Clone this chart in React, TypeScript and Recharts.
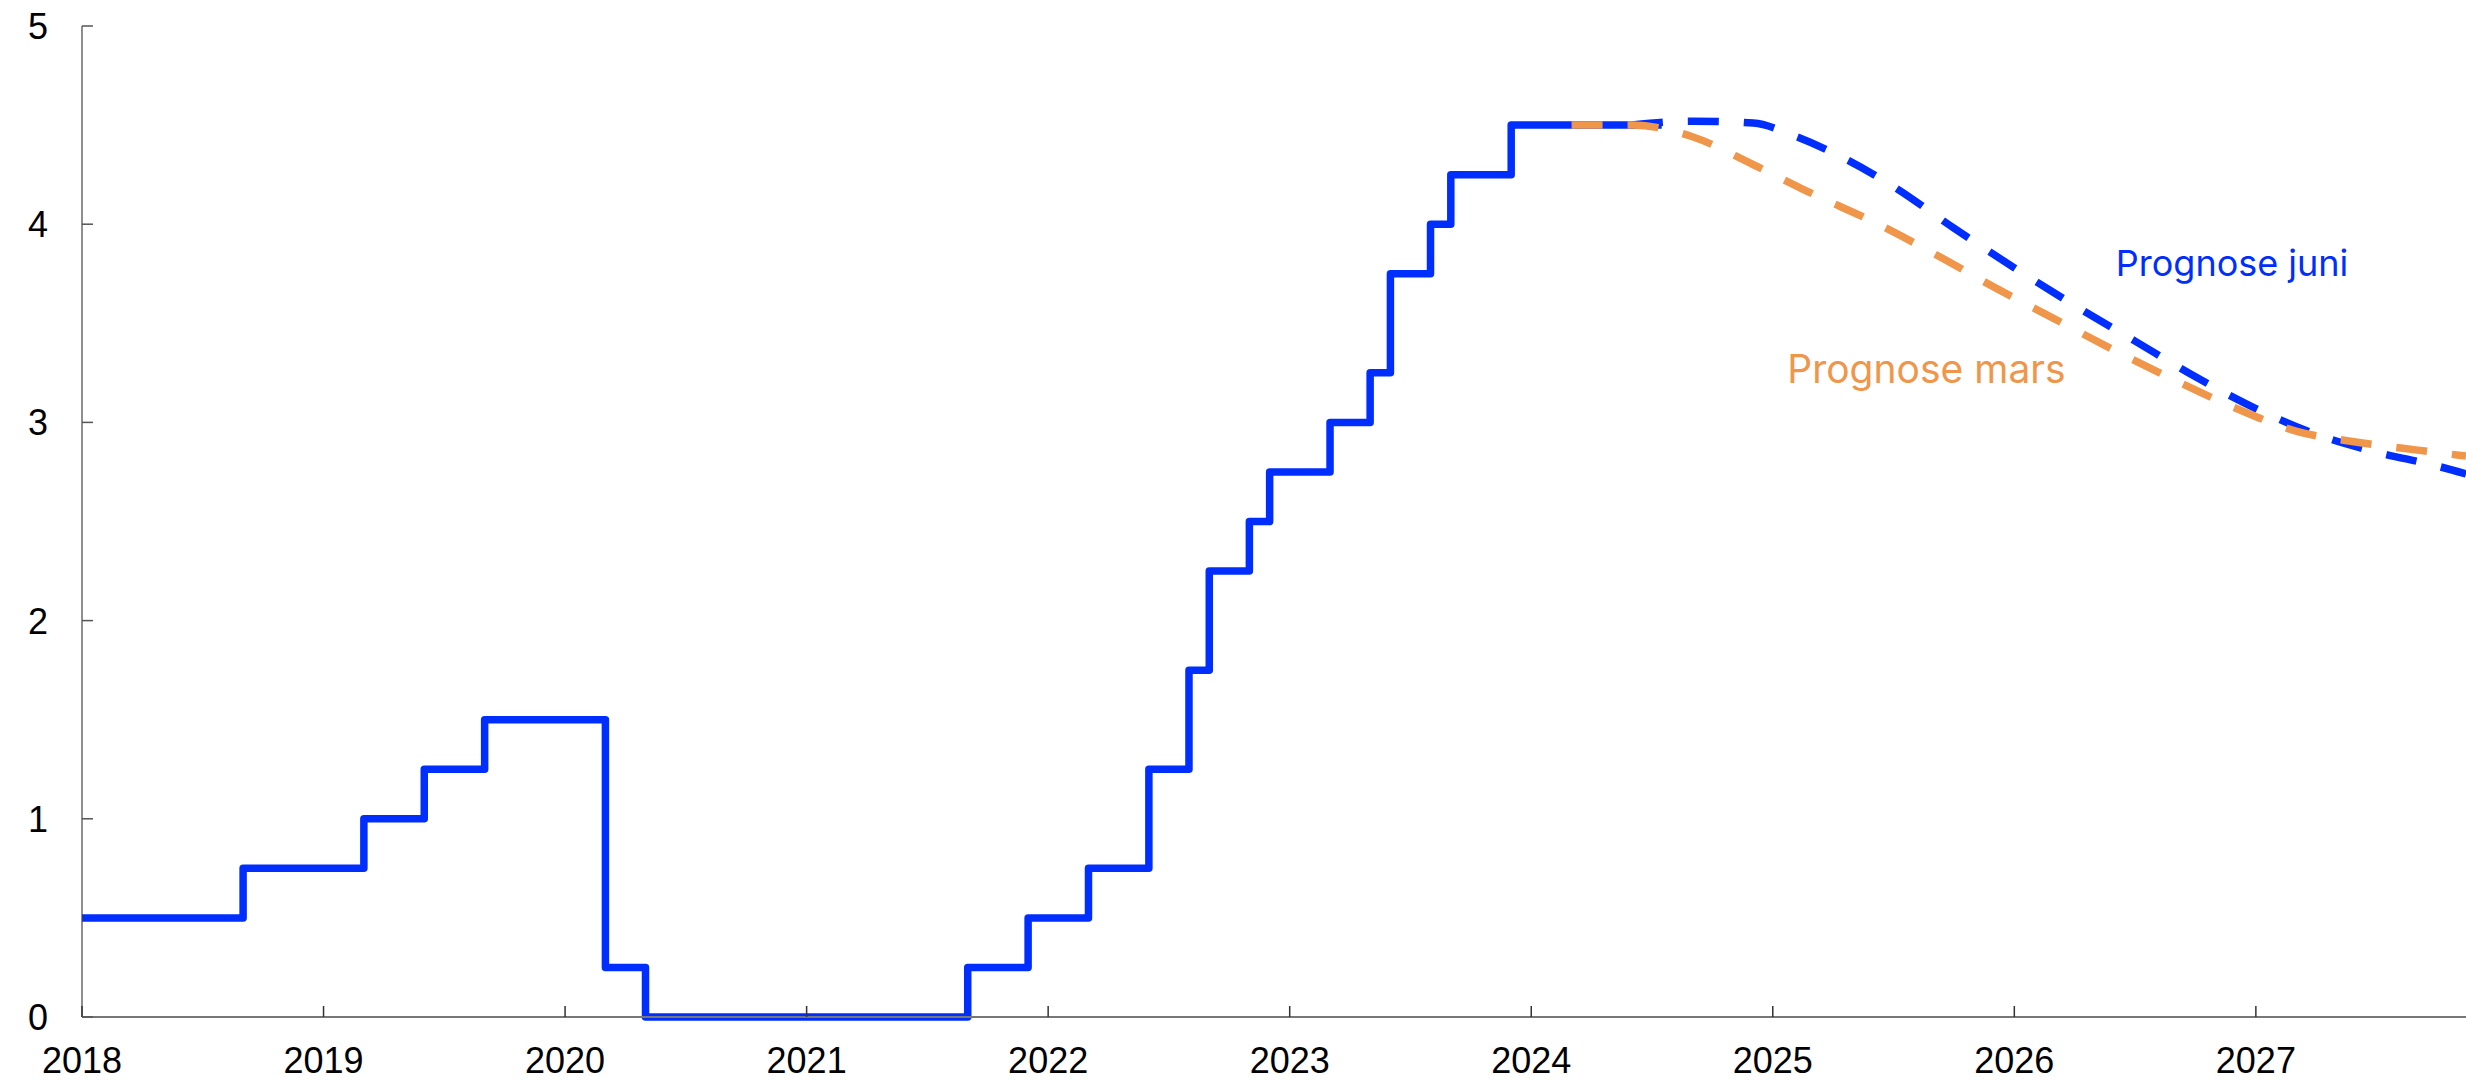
import React from "react";
import { LineChart, Line, XAxis, YAxis, ReferenceDot } from "recharts";

// Policy rate, monthly steps (decimal year, percent)
const policyDates = [
  2018.0, 2018.667, 2019.167, 2019.417, 2019.667, 2020.167, 2020.333, 2021.667, 2021.917, 2022.167,
  2022.417, 2022.583, 2022.667, 2022.833, 2022.917, 2023.167, 2023.333, 2023.417, 2023.583, 2023.667,
  2023.917, 2024.54,
];
const policyRates = [
  0.5, 0.75, 1.0, 1.25, 1.5, 0.25, 0, 0.25, 0.5, 0.75,
  1.25, 1.75, 2.25, 2.5, 2.75, 3.0, 3.25, 3.75, 4.0, 4.25,
  4.5, 4.5,
];

// Forecast June
const juneDates = [
  2024.417, 2024.67, 2024.92, 2025.08, 2025.25, 2025.5, 2025.75, 2026.0, 2026.25, 2026.5,
  2026.75, 2027.0, 2027.25, 2027.5, 2027.75, 2027.87,
];
const juneRates = [
  4.5, 4.52, 4.51, 4.45, 4.36, 4.19, 3.98, 3.78, 3.59, 3.41,
  3.23, 3.07, 2.94, 2.85, 2.78, 2.74,
];

// Forecast March
const marchDates = [
  2024.167, 2024.42, 2024.67, 2024.92, 2025.17, 2025.42, 2025.67, 2025.92, 2026.17, 2026.42,
  2026.67, 2026.92, 2027.17, 2027.42, 2027.67, 2027.87,
];
const marchRates = [
  4.5, 4.5, 4.44, 4.3, 4.15, 4.01, 3.85, 3.68, 3.52, 3.36,
  3.21, 3.07, 2.955, 2.9, 2.86, 2.83,
];

const yearTicks = [2018, 2019, 2020, 2021, 2022, 2023, 2024, 2025, 2026, 2027];
const rateTicks = [0, 1, 2, 3, 4, 5];

const BLUE = "#002eff";
const ORANGE = "#ef964a";
const FONT = "'Liberation Sans', Arial, sans-serif";

const zip = (ts: number[], vs: number[]) => ts.map((t, i) => ({ t, v: vs[i] }));
const policy = zip(policyDates, policyRates);
const june = zip(juneDates, juneRates);
const march = zip(marchDates, marchRates);

const labels = [
  { t: 2026.42, v: 3.74, text: "Prognose juni", color: BLUE, size: 36 },
  { t: 2025.06, v: 3.2, text: "Prognose mars", color: ORANGE, size: 39 },
];

function XTick({ x, y, payload }: any) {
  return (
    <g>
      <line x1={x} x2={x} y1={y} y2={y - 11} stroke="#333" strokeWidth={1.5} />
      <text x={x} y={y + 56} textAnchor="middle" fontSize={36} fontFamily={FONT} fill="#000">
        {payload.value}
      </text>
    </g>
  );
}

function YTick({ x, y, payload }: any) {
  return (
    <g>
      <line x1={x} x2={x + 11} y1={y} y2={y} stroke="#555" strokeWidth={1.5} />
      <text x={x - 34} y={y} dy="0.36em" textAnchor="end" fontSize={36} fontFamily={FONT} fill="#000">
        {payload.value}
      </text>
    </g>
  );
}

export default function App() {
  return (
    <div>
      <style>{`body{margin:0;background:#fff}`}</style>
      <LineChart width={2466} height={1080} margin={{ top: 26, right: 0, bottom: 0, left: 0 }}>
        <XAxis
          dataKey="t"
          type="number"
          domain={[2018, 2027.87]}
          ticks={yearTicks}
          allowDataOverflow
          height={63}
          tickSize={0}
          tickMargin={0}
          tickLine={false}
          tick={<XTick />}
          stroke="#777"
          strokeWidth={2}
        />
        <YAxis
          type="number"
          domain={[0, 5]}
          ticks={rateTicks}
          width={82}
          tickSize={0}
          tickMargin={0}
          tickLine={false}
          tick={<YTick />}
          stroke="#444"
          strokeWidth={1.2}
        />
        <Line
          data={june}
          dataKey="v"
          type="monotone"
          stroke={BLUE}
          strokeWidth={7.5}
          strokeDasharray="31 25"
          dot={false}
          activeDot={false}
          isAnimationActive={false}
        />
        <Line
          data={policy}
          dataKey="v"
          type="stepAfter"
          stroke={BLUE}
          strokeWidth={7.5}
          strokeLinejoin="round"
          dot={false}
          activeDot={false}
          isAnimationActive={false}
        />
        <Line
          data={march}
          dataKey="v"
          type="monotone"
          stroke={ORANGE}
          strokeWidth={7.5}
          strokeDasharray="31 25"
          dot={false}
          activeDot={false}
          isAnimationActive={false}
        />
        {labels.map((l) => (
          <ReferenceDot
            key={l.text}
            x={l.t}
            y={l.v}
            r={0}
            fill="none"
            stroke="none"
            label={(p: any) => (
              <text
                x={p.viewBox.x}
                y={p.viewBox.y}
                fontSize={l.size}
                fontFamily="Inter, 'Noto Sans', sans-serif"
                fill={l.color}
              >
                {l.text}
              </text>
            )}
          />
        ))}
      </LineChart>
    </div>
  );
}
